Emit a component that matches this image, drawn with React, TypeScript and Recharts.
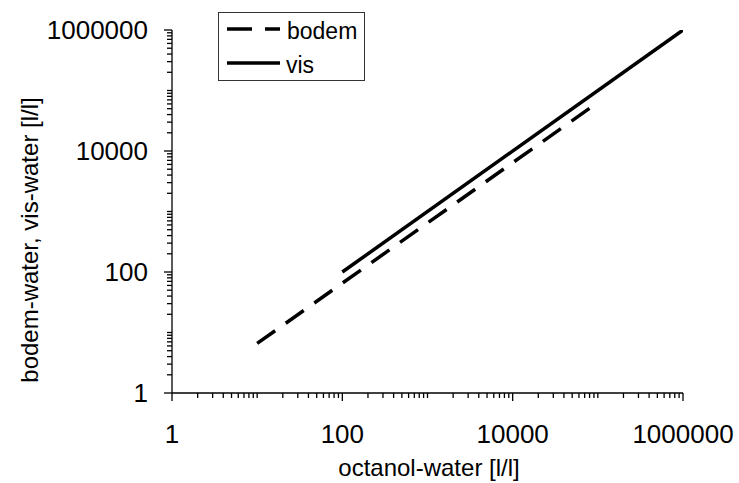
import React from "react";
import { ComposedChart, Line, XAxis, YAxis, Legend, Label } from "recharts";

// (log-log, both axes 1 .. 1e6)
const bodemX = [10, 82000];
const bodemY = [6.6, 52000];
const visX = [100, 1000000];
const visY = [100, 1000000];

const majorTicks = [1, 100, 10000, 1000000];
const decades = [1, 10, 100, 1000, 10000, 100000];
const steps = [1, 2, 3, 4, 5, 6, 7, 8, 9];
const allTicks = [...decades.flatMap((d) => steps.map((s) => s * d)), 1000000];

const bodemData = bodemX.map((x, i) => ({ x, y: bodemY[i] }));
const visData = visX.map((x, i) => ({ x, y: visY[i] }));

const FONT = '"Liberation Sans", Arial, Helvetica, sans-serif';
const INK = "#000";

function XTick(props: any) {
  const { x, y, payload } = props;
  const major = majorTicks.includes(payload.value);
  return (
    <g>
      <line x1={x} x2={x} y1={y} y2={y + (major ? 8 : 5)} stroke={INK} strokeWidth={1.3} />
      {major ? (
        <text x={x} y={y + 50} textAnchor="middle" fontSize={26} fontFamily={FONT} fill={INK}>
          {payload.value}
        </text>
      ) : null}
    </g>
  );
}

function YTick(props: any) {
  const { x, y, payload } = props;
  const major = majorTicks.includes(payload.value);
  return (
    <g>
      <line x1={x} x2={x - (major ? 8 : 5)} y1={y} y2={y} stroke={INK} strokeWidth={1.3} />
      {major ? (
        <text x={x - 24} y={y + 9} textAnchor="end" fontSize={26} fontFamily={FONT} fill={INK}>
          {payload.value}
        </text>
      ) : null}
    </g>
  );
}

function LegendBox() {
  return (
    <div
      style={{
        width: 147,
        height: 69,
        border: "1.5px solid #333",
        boxSizing: "border-box",
        background: "#fff",
      }}
    >
      <svg width={144} height={66} style={{ display: "block" }}>
        <line x1={8} x2={61} y1={16} y2={16} stroke={INK} strokeWidth={3.5} strokeDasharray="25 13" />
        <text x={68} y={26} fontSize={23} fontFamily={FONT} fill={INK}>
          bodem
        </text>
        <line x1={8} x2={61} y1={50} y2={50} stroke={INK} strokeWidth={3.5} />
        <text x={67} y={60} fontSize={23} fontFamily={FONT} fill={INK}>
          vis
        </text>
      </svg>
    </div>
  );
}

export default function App() {
  return (
    <div style={{ position: "absolute", left: 0, top: 0, width: 739, height: 483, background: "#fff" }}>
      <ComposedChart width={739} height={483} margin={{ top: 30, right: 56, bottom: 0, left: 0 }}>
        <XAxis
          type="number"
          dataKey="x"
          scale="log"
          domain={[1, 1000000]}
          allowDataOverflow
          ticks={allTicks}
          interval={0}
          tick={<XTick />}
          tickSize={0}
          tickMargin={0}
          tickLine={false}
          height={90}
          axisLine={{ stroke: INK, strokeWidth: 1.3 }}
        >
          <Label
            content={() => (
              <text x={429} y={476} textAnchor="middle" fontSize={24} fontFamily={FONT} fill={INK}>
                octanol-water [l/l]
              </text>
            )}
          />
        </XAxis>
        <YAxis
          type="number"
          scale="log"
          domain={[1, 1000000]}
          allowDataOverflow
          ticks={allTicks}
          interval={0}
          tick={<YTick />}
          tickSize={0}
          tickMargin={0}
          tickLine={false}
          width={172}
          axisLine={{ stroke: INK, strokeWidth: 1.3 }}
        >
          <Label
            content={() => (
              <text
                transform="translate(38,240) rotate(-90)"
                textAnchor="middle"
                fontSize={24}
                fontFamily={FONT}
                fill={INK}
              >
                bodem-water, vis-water [l/l]
              </text>
            )}
          />
        </YAxis>
        <Legend
          layout="vertical"
          align="center"
          verticalAlign="middle"
          content={<LegendBox />}
          wrapperStyle={{ left: 218, top: 12, width: 147, height: 69 }}
        />
        <Line
          data={bodemData}
          dataKey="y"
          name="bodem"
          type="linear"
          stroke={INK}
          strokeWidth={3.5}
          strokeDasharray="22 13"
          dot={false}
          activeDot={false}
          isAnimationActive={false}
        />
        <Line
          data={visData}
          dataKey="y"
          name="vis"
          type="linear"
          stroke={INK}
          strokeWidth={3.5}
          dot={false}
          activeDot={false}
          isAnimationActive={false}
        />
      </ComposedChart>
    </div>
  );
}
